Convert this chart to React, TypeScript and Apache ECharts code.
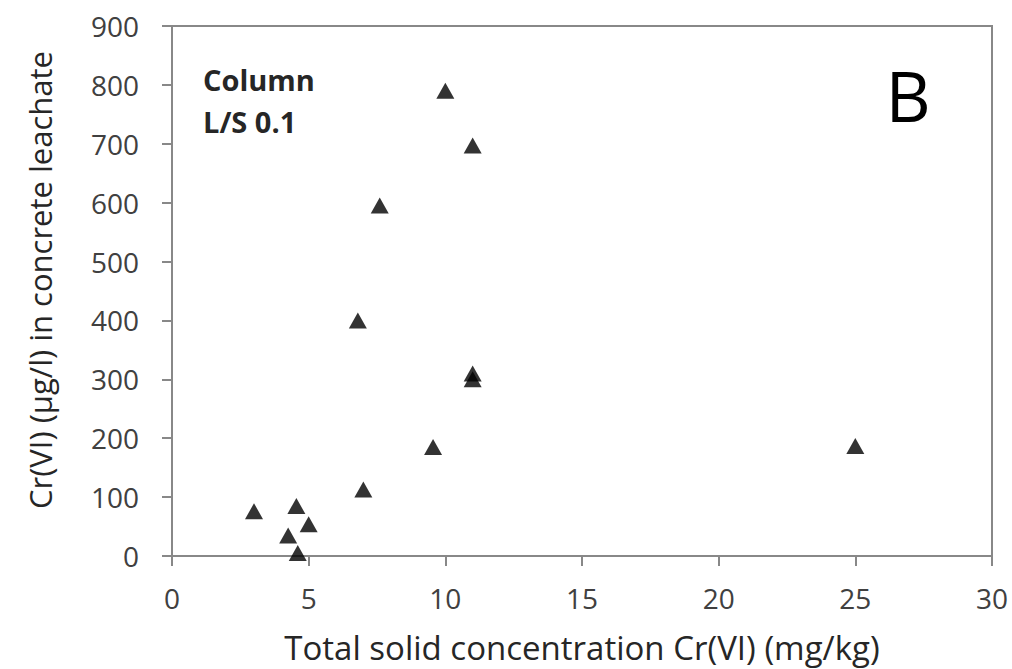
import React, { useEffect, useRef } from "react";
import * as echarts from "echarts";

const solidCr = [10, 11, 7.6, 6.8, 11, 11, 9.55, 25, 7, 3, 4.55, 5, 4.25, 4.6];
const leachateCr = [790, 697, 595, 400, 310, 300, 185, 187, 113, 76, 85, 54, 35, 5];
const xTitle = "Total solid concentration Cr(VI) (mg/kg)";
const yTitle = "Cr(VI) (µg/l) in concrete leachate";
const annotation = ["Column", "L/S 0.1"];
const panelLabel = "B";

export default function App() {
  const ref = useRef<HTMLDivElement>(null);
  useEffect(() => {
    if (!ref.current) return;
    const chart = echarts.init(ref.current, undefined, { renderer: "svg" });
    const font = "'Open Sans', sans-serif";
    chart.setOption({
      animation: false,
      backgroundColor: "#ffffff",
      grid: {
        left: 172,
        right: 20,
        top: 26,
        bottom: 112,
        show: true,
        borderColor: "#888888",
        borderWidth: 2,
        backgroundColor: "transparent",
      },
      xAxis: {
        type: "value",
        min: 0,
        max: 30,
        interval: 5,
        name: xTitle,
        nameLocation: "middle",
        nameGap: 75,
        nameTextStyle: { fontSize: 33, color: "#262626", fontFamily: font },
        axisLine: { show: true, onZero: false, lineStyle: { color: "#888888", width: 2 } },
        axisTick: { show: true, inside: false, length: 10, lineStyle: { color: "#888888", width: 2 } },
        axisLabel: { fontSize: 28, color: "#404040", fontFamily: font, margin: 28 },
        splitLine: { show: false },
      },
      yAxis: {
        type: "value",
        min: 0,
        max: 900,
        interval: 100,
        axisLine: { show: true, onZero: false, lineStyle: { color: "#888888", width: 2 } },
        axisTick: { show: true, inside: false, length: 10, lineStyle: { color: "#888888", width: 2 } },
        axisLabel: { fontSize: 28, color: "#404040", fontFamily: font, margin: 33 },
        splitLine: { show: false },
      },
      series: [
        {
          type: "scatter",
          symbol: "triangle",
          symbolSize: [18, 16],
          itemStyle: { color: "#000000" },
          data: solidCr.map((x, i) => [x, leachateCr[i]]),
        },
      ],
      graphic: [
        {
          type: "text",
          x: 40,
          y: 280,
          rotation: Math.PI / 2,
          style: {
            text: yTitle,
            fontSize: 31,
            fill: "#262626",
            fontFamily: font,
            verticalAlign: "middle",
            align: "center",
          },
        },
        {
          type: "text",
          x: 203,
          y: 79,
          style: {
            text: annotation[0],
            fontSize: 29,
            fontWeight: "bold",
            fill: "#262626",
            fontFamily: font,
            verticalAlign: "middle",
            align: "left",
          },
        },
        {
          type: "text",
          x: 203,
          y: 121,
          style: {
            text: annotation[1],
            fontSize: 29,
            fontWeight: "bold",
            fill: "#262626",
            fontFamily: font,
            verticalAlign: "middle",
            align: "left",
          },
        },
        {
          type: "text",
          x: 908,
          y: 95,
          style: {
            text: panelLabel,
            fontSize: 70,
            fill: "#000",
            fontFamily: font,
            verticalAlign: "middle",
            align: "center",
          },
        },
      ],
    });
    return () => chart.dispose();
  }, []);
  return <div ref={ref} style={{ width: 1012, height: 669, position: "absolute", left: 0, top: 0 }} />;
}
